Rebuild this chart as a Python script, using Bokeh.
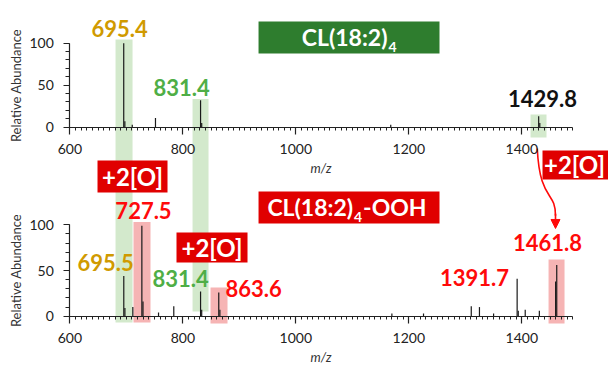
from bokeh.plotting import figure
from bokeh.models import (Range1d, LinearAxis, SingleIntervalTicker, ColumnDataSource,
                          Arrow, NormalHead)
from bokeh.embed import file_html
from bokeh.resources import INLINE
from bokeh.core.properties import value

# ---------------- data ----------------
# top spectrum: CL(18:2)4
top_mz = [695.4, 697.4, 710.5, 751.6, 831.4, 833.4, 1168.0, 1429.8, 1431.8]
top_int = [100, 7, 3, 11, 32, 5, 3, 13, 5]
# bottom spectrum: CL(18:2)4-OOH
bot_mz = [695.5, 697.5, 711.5, 727.5, 729.5, 757.0, 784.0, 831.4, 833.4, 863.6, 865.6,
          1170.0, 1226.0, 1310.5, 1325.0, 1350.0, 1391.7, 1393.7, 1406.0, 1431.0,
          1459.8, 1461.8]
bot_int = [44, 9, 10, 99, 16, 4, 11, 27, 7, 26, 7,
           3, 3, 11, 10, 3, 41, 6, 7, 6, 38, 56]

top_labels = ["695.4", "831.4", "1429.8"]
bot_labels = ["727.5", "695.5", "831.4", "863.6", "1391.7", "1461.8"]
x_ticks_interval = 200
y_ticks_interval = 50

# ---------------- styling ----------------
GOLD = "#d09a00"
GREEN_TXT = "#4fae46"
RED = "#ff0a0a"
BOX_RED = "#e00000"
BOX_GREEN = "#2e7d2e"
BAND_GREEN = "#d3e9cc"
BAND_RED = "#f6b4b4"
FONT = "Lato"

p = figure(width=608, height=365,
           x_range=Range1d(477.3, 1553.4), y_range=Range1d(-283.7, 150.8),
           x_axis_type=None, y_axis_type=None,
           toolbar_location=None, output_backend="svg", min_border=0)
p.extra_y_ranges = {"bot": Range1d(-53.9, 345.4)}
p.outline_line_color = None
p.background_fill_color = "white"


def style_axis(ax):
    ax.axis_line_color = "#222222"
    ax.axis_line_width = 1.2
    ax.major_tick_line_color = "#222222"
    ax.minor_tick_line_color = "#222222"
    ax.major_tick_line_width = 1.2
    ax.major_tick_in = 0
    ax.minor_tick_in = 0
    ax.major_label_text_font = FONT
    ax.major_label_text_font_size = "14px"
    ax.major_label_text_color = "#222222"
    ax.axis_label_text_font = FONT
    ax.axis_label_text_color = "#333333"


def add_axes(range_name):
    xa = LinearAxis(fixed_location=0, bounds=(600, 1490), y_range_name=range_name,
                    ticker=SingleIntervalTicker(interval=x_ticks_interval, num_minor_ticks=20),
                    axis_label="m/z")
    style_axis(xa)
    xa.major_tick_out = 7
    xa.minor_tick_out = 3
    xa.major_label_standoff = 10
    xa.axis_label_standoff = 2
    xa.axis_label_text_font_style = "italic"
    xa.axis_label_text_font_size = "13px"
    p.add_layout(xa, "below")

    ya = LinearAxis(fixed_location=600, bounds=(0, 100), y_range_name=range_name,
                    ticker=SingleIntervalTicker(interval=y_ticks_interval, num_minor_ticks=5),
                    axis_label="Relative Abundance")
    style_axis(ya)
    ya.major_tick_out = 6
    ya.minor_tick_out = 4
    ya.major_label_standoff = 10
    ya.axis_label_standoff = 2
    ya.axis_label_text_font_style = "normal"
    ya.axis_label_text_font_size = "13px"
    p.add_layout(ya, "left")


# ---------------- highlight bands ----------------
# green bands (top range) running through both panels
gb = ColumnDataSource(dict(left=[680.9, 817.2, 1415.4], right=[711.0, 845.5, 1443.7],
                           top=[104.4, 33.6, 15.1], bottom=[-232.5, -219.4, -12.3]))
p.quad(left="left", right="right", top="top", bottom="bottom", source=gb,
       fill_color=BAND_GREEN, line_color=None)
# red bands (bottom range)
rb = ColumnDataSource(dict(left=[712.7, 849.0, 1447.3], right=[742.8, 879.1, 1475.6],
                           top=[103.1, 31.4, 62.0], bottom=[-6.9, -8.0, -8.0]))
p.quad(left="left", right="right", top="top", bottom="bottom", source=rb,
       fill_color=BAND_RED, line_color=None, y_range_name="bot")

# ---------------- spectra ----------------
p.segment(x0=top_mz, x1=top_mz, y0=[0] * len(top_mz), y1=top_int,
          line_color="#1a1a1a", line_width=1.2)
p.segment(x0=bot_mz, x1=bot_mz, y0=[0] * len(bot_mz), y1=bot_int,
          line_color="#1a1a1a", line_width=1.2, y_range_name="bot")

add_axes("default")
add_axes("bot")

# ---------------- peak labels ----------------
tl = ColumnDataSource(dict(x=[688.0, 797.7, 1436.6], y=[117.5, 47.3, 34.2],
                           text=top_labels, color=[GOLD, GREEN_TXT, "#111111"]))
p.text(x="x", y="y", text="text", text_color="color", source=tl,
       text_font=value(FONT), text_font_style="bold", text_font_size="22px",
       text_align="center", text_baseline="middle")

bl = ColumnDataSource(dict(x=[730.4, 663.2, 795.9, 925.1, 1316.3, 1445.5],
                           y=[115.6, 58.8, 41.2, 30.3, 42.3, 80.6],
                           text=bot_labels,
                           color=[RED, GOLD, GREEN_TXT, RED, RED, RED]))
p.text(x="x", y="y", text="text", text_color="color", source=bl,
       text_font=value(FONT), text_font_style="bold", text_font_size="22px",
       text_align="center", text_baseline="middle", y_range_name="bot")

# ---------------- title boxes ----------------
p.quad(left=[934.0], right=[1254.3], top=[125.8], bottom=[87.7],
       fill_color=BOX_GREEN, line_color=None)
p.text(x=[1162.3], y=[106.8], text=["CL(18:2)"], text_color="white",
       text_font=value(FONT), text_font_style="bold", text_font_size="23px",
       text_align="right", text_baseline="middle")
p.text(x=[1162.3], y=[94.9], text=["4"], text_color="white", x_offset=1,
       text_font=value(FONT), text_font_style="bold", text_font_size="14px",
       text_align="left", text_baseline="middle")

p.quad(left=[934.0], right=[1254.3], top=[136.4], bottom=[101.4],
       fill_color=BOX_RED, line_color=None, y_range_name="bot")
p.text(x=[1101.4], y=[120.0], text=["CL(18:2)"], text_color="white",
       text_font=value(FONT), text_font_style="bold", text_font_size="23px",
       text_align="right", text_baseline="middle", y_range_name="bot")
p.text(x=[1101.4], y=[109.1], text=["4"], text_color="white", x_offset=1,
       text_font=value(FONT), text_font_style="bold", text_font_size="14px",
       text_align="left", text_baseline="middle", y_range_name="bot")
p.text(x=[1101.4], y=[120.0], text=["-OOH"], text_color="white", x_offset=10,
       text_font=value(FONT), text_font_style="bold", text_font_size="23px",
       text_align="left", text_baseline="middle", y_range_name="bot")

# +2[O] boxes
ob = ColumnDataSource(dict(left=[649.0, 788.8, 1436.6], right=[772.9, 914.5, 1565.8],
                           top=[170.4, 91.6, 181.3], bottom=[135.4, 58.8, 149.6],
                           tx=[711.0, 851.7, 1493.3], ty=[152.9, 75.2, 165.5],
                           text=["+2[O]", "+2[O]", "+2[O]"]))
p.quad(left="left", right="right", top="top", bottom="bottom", source=ob,
       fill_color=BOX_RED, line_color=None, y_range_name="bot")
p.text(x="tx", y="ty", text="text", source=ob, text_color="white",
       text_font=value(FONT), text_font_style="bold", text_font_size="24px",
       text_align="center", text_baseline="middle", y_range_name="bot")

# curved red arrow
p.bezier(x0=[1427.3], y0=[183.5], cx0=[1432.0], cy0=[125.0], cx1=[1459.6], cy1=[138.0],
         x1=[1459.6], y1=[110.0], line_color=RED, line_width=1.6, y_range_name="bot")
p.add_layout(Arrow(end=NormalHead(size=9, fill_color=RED, line_color=RED),
                   x_start=1459.6, y_start=112.0, x_end=1459.6, y_end=96.0,
                   line_color=RED, line_width=1.6, y_range_name="bot"))

open("out.html", "w").write(file_html(p, INLINE))
